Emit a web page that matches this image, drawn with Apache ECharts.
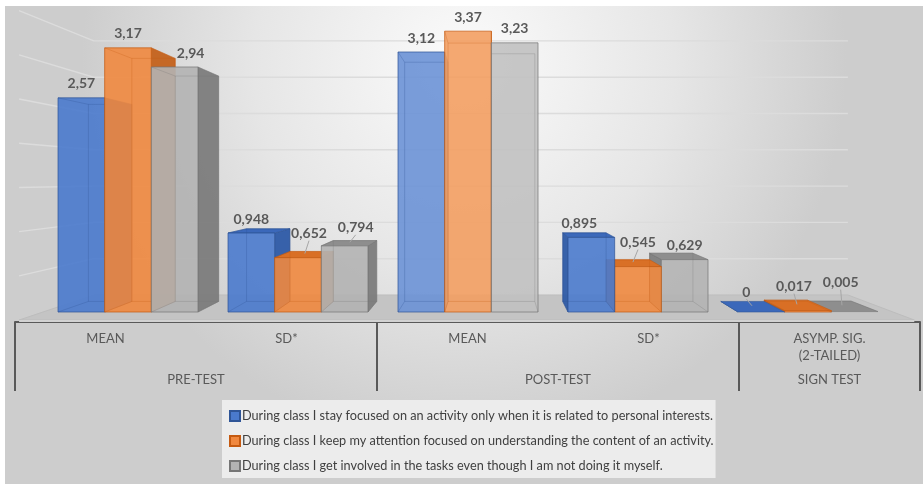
<!DOCTYPE html>
<html>
<head>
<meta charset="utf-8">
<script src="https://cdn.jsdelivr.net/npm/echarts@6/dist/echarts.min.js"></script>
<style>
  html, body { margin: 0; padding: 0; background: #ffffff; }
  #chart { width: 923px; height: 484px; }
</style>
</head>
<body>
<div id="chart"></div>
<script>
// ---- data ----
const categories = ['MEAN', 'SD*', 'MEAN', 'SD*', 'ASYMP. SIG.\n(2-TAILED)'];
const testGroups = [
  ['PRE-TEST', 0, 1],
  ['POST-TEST', 2, 3],
  ['SIGN TEST', 4, 4]
];
const seriesNames = [
  'During class I stay focused on an activity only when it is related to personal interests.',
  'During class I keep my attention focused on understanding the content of an activity.',
  'During class I get involved in the tasks even though I am not doing it myself.'
];
const focusedOnInterests = [2.57, 0.948, 3.12, 0.895, 0];
const attentionOnContent = [3.17, 0.652, 3.37, 0.545, 0.017];
const involvedInTasks = [2.94, 0.794, 3.23, 0.629, 0.005];
const wallTicks = [0.5, 1, 1.5, 2, 2.5, 3, 3.5];

// ---- 3D look ----
const VIEW = {
  kx: 0.07, ky: 0.08,          // depth shrink toward the vanishing point
  vxFrac: 0.529, vyFrac: 0.547, // vanishing point inside the plot box
  barDepth: 1, floorFront: -0.76, wallDepth: 1.61,
  groupFill: 140 / 170
};
const palette = [
  { front: '#4a7acd', side: '#2d5aa6', top: '#3b68ba', edge: '#2f5597' },
  { front: '#f0883f', side: '#c4621c', top: '#d96f25', edge: '#c55a11' },
  { front: '#b3b3b3', side: '#7c7c7c', top: '#8e8e8e', edge: '#767676' }
];
// label tweaks: [dx, dy, leader]
const labelNudge = {
  '2-0': [16, 0, false],
  '1-1': [11, -10, true],
  '2-1': [11, -4, true],
  '0-3': [-12, 0, false],
  '1-3': [0, -10, true],
  '0-4': [-15, -6, true],
  '1-4': [-14, -10, true],
  '2-4': [-14, -15, true]
};
const TEXT = '#595959';
const FONT = 'Lato, "Liberation Sans", sans-serif';

function mix(hex, amt) {
  const n = parseInt(hex.slice(1), 16);
  const r = (n >> 16) & 255, g = (n >> 8) & 255, b = n & 255;
  const f = c => Math.round(c + (255 - c) * amt);
  return 'rgb(' + f(r) + ',' + f(g) + ',' + f(b) + ')';
}
function vanish(cs) {
  return [cs.x + VIEW.vxFrac * cs.width, cs.y + VIEW.vyFrac * cs.height];
}
function projector(cs) {
  const V = vanish(cs);
  return (x, y, d) => [x + d * VIEW.kx * (V[0] - x), y + d * VIEW.ky * (V[1] - y)];
}

function barRenderer(si) {
  const pal = palette[si];
  return function (params, api) {
    const cs = params.coordSys;
    const V = vanish(cs);
    const P = projector(cs);
    const cat = api.value(0), val = api.value(1);
    const base = api.coord([cat, 0]);
    const top = api.coord([cat, val]);
    const band = api.size([1, 0])[0];
    const gw = band * VIEW.groupFill;
    const bw = gw / 3;
    const x0 = base[0] - gw / 2 + si * bw, x1 = x0 + bw;
    const yb = base[1], yt = top[1];
    const D = VIEW.barDepth;
    const blt = P(x0, yt, D), brt = P(x1, yt, D), brb = P(x1, yb, D), blb = P(x0, yb, D);

    // brighter faces for the group facing the viewer
    const light = 0.22 * Math.max(0, 1 - Math.abs(base[0] - V[0]) / 150);
    const cFront = mix(pal.front, light), cSide = mix(pal.side, light * 0.6), cTop = mix(pal.top, light * 0.6);

    // draw order: bars closer to the vanishing point go first
    const onLeft = (x0 + x1) / 2 < V[0];
    const order = onLeft ? (cat * 3 + si) : (100 - cat * 3 - si);
    const z0 = order * 10;
    const children = [];

    if (brt[0] > x1) {
      children.push({ type: 'polygon', z2: z0 + 1,
        shape: { points: [[x1, yt], brt, brb, [x1, yb]] },
        style: { fill: cSide, stroke: pal.edge, lineWidth: 0.6, opacity: 0.95 } });
    }
    if (blt[0] < x0) {
      children.push({ type: 'polygon', z2: z0 + 1,
        shape: { points: [[x0, yt], blt, blb, [x0, yb]] },
        style: { fill: cSide, stroke: pal.edge, lineWidth: 0.6, opacity: 0.95 } });
    }
    if (brt[1] < yt) {
      children.push({ type: 'polygon', z2: z0 + 2,
        shape: { points: [[x0, yt], [x1, yt], brt, blt] },
        style: { fill: cTop, stroke: pal.edge, lineWidth: 0.6 } });
    }
    if (yb - yt > 0.5) {
      children.push({ type: 'rect', z2: z0 + 3,
        shape: { x: x0, y: yt, width: bw, height: yb - yt },
        style: { fill: cFront, stroke: pal.edge, lineWidth: 0.8, opacity: 0.9 } });
      // hidden edges seen through the translucent face
      const ghost = { stroke: pal.edge, lineWidth: 0.8, opacity: 0.35, fill: null };
      children.push({ type: 'polyline', z2: z0 + 4, shape: { points: [blt, brt, brb, blb, blt] }, style: ghost });
      children.push({ type: 'line', z2: z0 + 4, shape: { x1: x0, y1: yt, x2: blt[0], y2: blt[1] }, style: ghost });
      children.push({ type: 'line', z2: z0 + 4, shape: { x1: x0, y1: yb, x2: blb[0], y2: blb[1] }, style: ghost });
      children.push({ type: 'line', z2: z0 + 4, shape: { x1: x1, y1: yb, x2: brb[0], y2: brb[1] }, style: ghost });
    }

    // value label
    const nudge = labelNudge[si + '-' + cat] || [0, 0, false];
    const fx = (x0 + x1) / 2;
    const lx = fx + nudge[0], ly = yt - 14 + nudge[1];
    children.push({ type: 'text', z2: 2000,
      style: { text: String(val).replace('.', ','), x: lx, y: ly,
        align: 'center', verticalAlign: 'middle',
        font: 'bold 14px ' + FONT, fill: TEXT } });
    if (nudge[2]) {
      const mid = P(fx, yt, D / 2);
      children.push({ type: 'line', z2: 1999,
        shape: { x1: lx, y1: ly + 7, x2: mid[0], y2: mid[1] - 1 },
        style: { stroke: '#a6a6a6', lineWidth: 1 } });
    }
    return { type: 'group', children: children };
  };
}

function backdropRenderer(params, api) {
  const cs = params.coordSys;
  const P = projector(cs);
  const xl = cs.x, xr = cs.x + cs.width, yb = cs.y + cs.height;
  const children = [];
  const fl = P(xl, yb, VIEW.floorFront), fr = P(xr, yb, VIEW.floorFront);
  const bl = P(xl, yb, VIEW.wallDepth), br = P(xr, yb, VIEW.wallDepth);
  children.push({ type: 'polygon', z2: 0,
    shape: { points: [fl, fr, br, bl] },
    style: { fill: '#c4c4c4', stroke: '#bdbdbd', lineWidth: 1 } });
  children.push({ type: 'rect', z2: 0,
    shape: { x: fl[0], y: fl[1], width: fr[0] - fl[0], height: 2 },
    style: { fill: '#d2d2d2' } });
  wallTicks.forEach(v => {
    const y = api.coord([0, v])[1];
    const a = P(xl, y, VIEW.floorFront), b = P(xl, y, VIEW.wallDepth), c = P(xr, y, VIEW.wallDepth);
    children.push({ type: 'polyline', z2: 1,
      shape: { points: [a, b, c] },
      style: { stroke: '#dcdcdc', lineWidth: 1.4, fill: null } });
  });
  return { type: 'group', children: children };
}

function groupLabelRenderer(params, api) {
  const cs = params.coordSys;
  const half = api.size([1, 0])[0] / 2;
  const xa = api.coord([api.value(0), 0])[0] - half;
  const xb = api.coord([api.value(1), 0])[0] + half;
  const y0 = cs.y + cs.height;
  const name = testGroups[params.dataIndex][0];
  const line = { stroke: TEXT, lineWidth: 2 };
  return { type: 'group', children: [
    { type: 'line', shape: { x1: xa, y1: y0, x2: xa, y2: y0 + 69 }, style: line },
    { type: 'line', shape: { x1: xb, y1: y0, x2: xb, y2: y0 + 69 }, style: line },
    { type: 'text', style: { text: name, x: (xa + xb) / 2, y: y0 + 58,
      align: 'center', verticalAlign: 'middle', font: '13px ' + FONT, fill: TEXT } }
  ] };
}

const seriesValues = [focusedOnInterests, attentionOnContent, involvedInTasks];
const chart = echarts.init(document.getElementById('chart'), null, { renderer: 'canvas' });

chart.setOption({
  animation: false,
  graphic: [{
    type: 'rect', z: -10, left: 5, top: 6,
    shape: { width: 918, height: 478 },
    style: { fill: new echarts.graphic.RadialGradient(0.5, 0.12, 0.8, [
      { offset: 0, color: '#fbfbfb' },
      { offset: 0.55, color: '#e6e6e6' },
      { offset: 1, color: '#cdcdcd' }
    ]) }
  }],
  grid: [
    { left: 43, width: 850, top: 20.33, height: 291.67 },
    { left: 15, width: 905, top: 262, height: 60 }
  ],
  xAxis: [
    { type: 'category', gridIndex: 0, data: categories, show: false },
    { type: 'category', gridIndex: 1, data: categories,
      axisLine: { lineStyle: { color: TEXT, width: 2 } },
      axisTick: { show: false },
      axisLabel: { interval: 0, margin: 8, color: TEXT, fontSize: 13,
        fontFamily: FONT, lineHeight: 17 } }
  ],
  yAxis: [
    { type: 'value', gridIndex: 0, min: 0, max: 3.5, show: false },
    { type: 'value', gridIndex: 1, min: 0, max: 1, show: false }
  ],
  legend: {
    data: seriesNames, orient: 'vertical', left: 222, top: 400,
    padding: [9, 2, 5, 7], itemGap: 11, itemWidth: 10, itemHeight: 10,
    icon: 'rect', backgroundColor: '#ececec',
    textStyle: { fontFamily: FONT, fontSize: 12.7, color: '#404040', lineHeight: 14, padding: [0, 0, 0, -3] }
  },
  series: [
    { type: 'custom', name: '_backdrop', z: 1, silent: true,
      xAxisIndex: 0, yAxisIndex: 0, renderItem: backdropRenderer, data: [[0, 0]] },
    ...seriesValues.map((vals, si) => ({
      type: 'custom', name: seriesNames[si], z: 2,
      xAxisIndex: 0, yAxisIndex: 0,
      itemStyle: { color: palette[si].front, borderColor: palette[si].edge, borderWidth: 1 },
      renderItem: barRenderer(si),
      data: vals.map((v, i) => [i, v])
    })),
    { type: 'custom', name: '_groups', z: 3, silent: true,
      xAxisIndex: 1, yAxisIndex: 1, renderItem: groupLabelRenderer,
      data: testGroups.map(g => [g[1], g[2]]) }
  ]
});
</script>
</body>
</html>
